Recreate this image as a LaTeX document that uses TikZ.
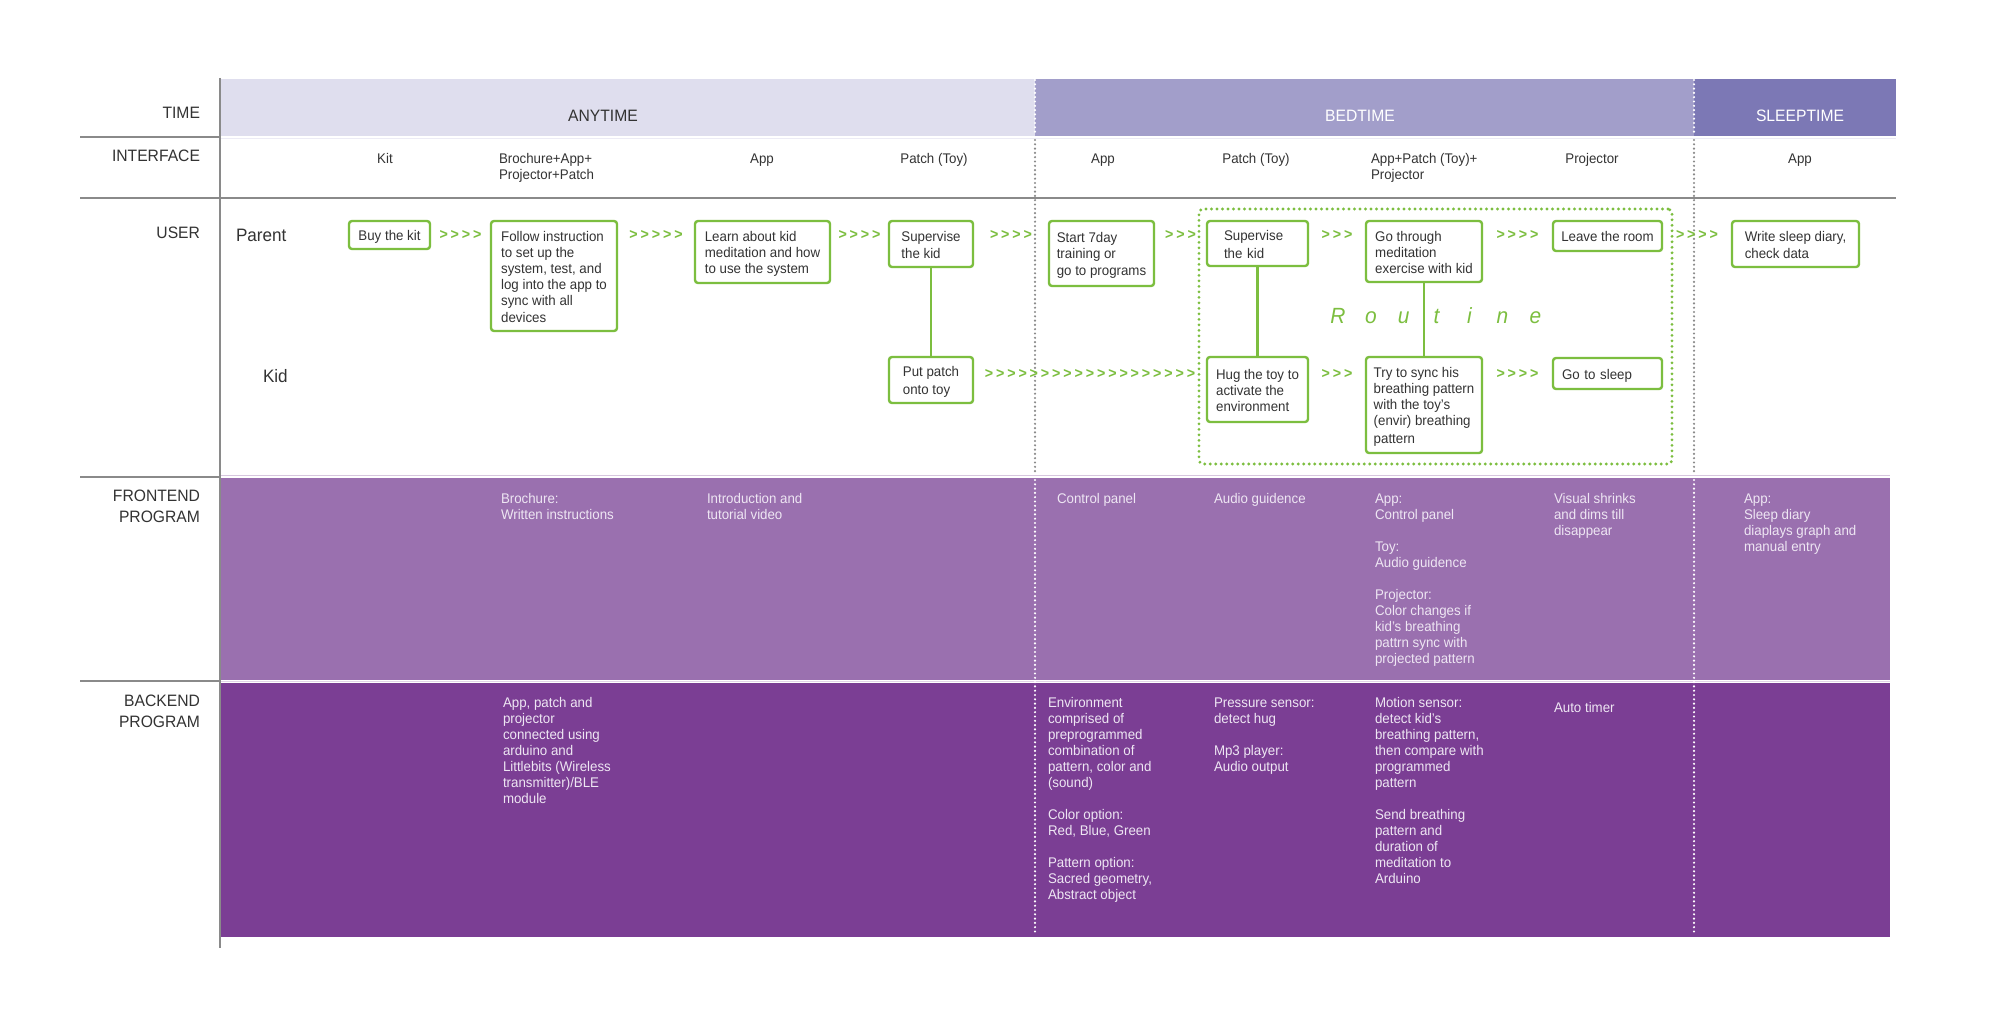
\documentclass[tikz,border=0pt]{standalone}
\usepackage{fontspec}
\setmainfont{Liberation Sans}[FakeStretch=0.95]
\usetikzlibrary{calc}
\definecolor{anyc}{HTML}{DFDEEE}
\definecolor{bedc}{HTML}{A29ECA}
\definecolor{sleepc}{HTML}{7C78B5}
\definecolor{frontc}{HTML}{9A70AF}
\definecolor{backc}{HTML}{7B3E94}
\definecolor{grn}{HTML}{7CBE3F}
\definecolor{lgray}{HTML}{8A8A8A}
\definecolor{lbl}{HTML}{333333}
\definecolor{ptxt}{HTML}{EEE6F3}
\newcommand\bstrut{\rule[-2pt]{0pt}{16pt}}
\newcommand\rl[1]{\makebox[32.9pt]{#1}}
\newcount\chvn
\newcommand\chv[1]{\chvn=#1\relax>\loop\ifnum\chvn>1 \kern2.9pt>\advance\chvn-1\repeat}
\begin{document}
\begin{tikzpicture}[x=1pt,y=-1pt,
  every node/.style={inner sep=0pt, outer sep=0pt},
  caplbl/.style={font=\fontsize{16.5}{21}\selectfont, text=lbl},
  rowlbl/.style={font=\fontsize{18}{21}\selectfont, text=lbl},
  iface/.style={font=\fontsize{14}{16}\selectfont, text=lbl},
  box/.style={draw=grn, line width=2.4pt, rounded corners=3pt, fill=white, align=left,
    anchor=north west, font=\fontsize{14}{16}\selectfont, text=lbl},
  chev/.style={font=\fontsize{15}{16}\selectfont\bfseries, text=grn},
  link/.style={draw=grn, line width=2.2pt},
  ptext/.style={font=\fontsize{14}{16}\selectfont, text=ptxt, align=left, anchor=north west},
  sepgray/.style={draw=lgray, line width=2.4pt, line cap=round, dash pattern=on 0pt off 4.3pt},
  sepwhite/.style={draw=white, line width=2.4pt, line cap=round, dash pattern=on 0pt off 4.3pt},
  gridline/.style={draw=lgray, line width=2pt}
]
\useasboundingbox[fill=white] (0,0) rectangle (2000,1011);

% bands
\fill[anyc] (220,79) rectangle (1035,136);
\fill[bedc] (1035,79) rectangle (1694,136);
\fill[sleepc] (1694,79) rectangle (1896,136);
\draw[anyc!60!white, line width=1.5pt] (220,138.5) -- (1896,138.5);
\fill[frontc] (221,478) rectangle (1890,680);
\draw[frontc!40!white, line width=1.5pt] (221,475.5) -- (1890,475.5);
\draw[frontc!30!white, line width=1.2pt] (221,681.5) -- (1890,681.5);
\fill[backc] (221,683) rectangle (1890,937);

% grid lines
\draw[gridline] (219.5,78) -- (219.5,948);
\draw[gridline] (80,137) -- (219.5,137);
\draw[gridline] (80,198) -- (1896,198);
\draw[gridline] (80,477) -- (219.5,477);
\draw[gridline] (80,681) -- (219.5,681);

% phase separators
\foreach \xx in {1035,1694} {
  \draw[sepgray] (\xx,140) -- (\xx,474);
  \draw[sepwhite] (\xx,80) -- (\xx,135);
  \draw[sepwhite] (\xx,480) -- (\xx,935);
}

% left labels
\node[caplbl, anchor=base east] (ltime) at (200,119) {TIME};
\node[caplbl, anchor=base east] (liface) at (200,162) {INTERFACE};
\node[caplbl, anchor=base east] (luser) at (200,239) {USER};
\node[caplbl, anchor=north east, align=right] (lfront) at (200,486.3) {\strut FRONTEND\\PROGRAM};
\node[caplbl, anchor=north east, align=right] (lback) at (200,691.3) {\strut BACKEND\\PROGRAM};
\node[rowlbl, anchor=base west] (lparent) at (236,242) {Parent};
\node[rowlbl, anchor=base west] (lkid) at (263,382) {Kid};

% header
\node[caplbl, anchor=base] (hany) at (603,122) {ANYTIME};
\node[caplbl, anchor=base, text=white] (hbed) at (1360,122) {BEDTIME};
\node[caplbl, anchor=base, text=white] (hsleep) at (1800,122) {SLEEPTIME};

% interface
\node[iface, anchor=base] (i1) at (385,164) {Kit};
\node[iface, anchor=north west, align=left] (i2) at (499,152.8) {\strut Brochure+App+\\Projector+Patch};
\node[iface, anchor=base] (i3) at (762,164) {App};
\node[iface, anchor=base] (i4) at (934,164) {Patch (Toy)};
\node[iface, anchor=base] (i5) at (1103,164) {App};
\node[iface, anchor=base] (i6) at (1256,164) {Patch (Toy)};
\node[iface, anchor=north west, align=left] (i7) at (1371,152.8) {\strut App+Patch (Toy)+\\Projector};
\node[iface, anchor=base] (i8) at (1592,164) {Projector};
\node[iface, anchor=base] (i9) at (1800,164) {App};

% routine frame
\node[draw=grn, line width=3.2pt, line cap=round, dash pattern=on 0pt off 5.5pt,
  rounded corners=4pt, anchor=north west, minimum width=473, minimum height=255] (routinebox) at (1199,209) {};
\node[anchor=base west, font=\fontsize{22}{24}\selectfont\itshape, text=grn] (routine) at (1321.5,323)
  {\rl{R}\rl{o}\rl{u}\rl{t}\rl{i}\rl{n}\rl{e}};

% parent boxes
\node[box, minimum width=81, minimum height=28] (buy) at (349,221) {\bstrut Buy the kit\bstrut};
\node[box, minimum width=126, minimum height=110] (follow) at (491,221)
  {\bstrut Follow instruction\\to set up the\\system, test, and\\log into the app to\\sync with all\\devices\bstrut};
\node[box, minimum width=135, minimum height=62] (learn) at (695,221)
  {\bstrut Learn about kid\\meditation and how\\to use the system\bstrut};
\node[box, minimum width=84, minimum height=46] (sup1) at (889,221) {\bstrut Supervise\\the kid\bstrut};
\node[box, minimum width=105, minimum height=65] (start) at (1049,221)
  {\bstrut Start 7day\\training or\\go to programs\bstrut};
\node[box, text width=67pt, inner xsep=17pt, minimum height=45] (sup2) at (1207,221) {\bstrut Supervise\\the kid\bstrut};
\node[box, minimum width=116, minimum height=61] (go) at (1366,221)
  {\bstrut Go through\\meditation\\exercise with kid\bstrut};
\node[box, minimum width=109, minimum height=30] (leave) at (1553,221) {\bstrut Leave the room\bstrut};
\node[box, minimum width=127, minimum height=46] (write) at (1732,221)
  {\bstrut Write sleep diary,\\check data\bstrut};

% kid boxes
\node[box, minimum width=84, minimum height=46] (put) at (889,357) {\bstrut Put patch\\onto toy\bstrut};
\node[box, minimum width=101, minimum height=65] (hug) at (1207,357)
  {\bstrut Hug the toy to\\activate the\\environment\bstrut};
\node[box, minimum width=116, minimum height=96] (try) at (1366,357)
  {\bstrut Try to sync his\\breathing pattern\\with the toy’s\\(envir) breathing\\pattern\bstrut};
\node[box, text width=91pt, inner xsep=9pt, minimum height=31] (sleep) at (1553,358) {\bstrut Go to sleep\bstrut};

% vertical links
\draw[link] (sup1.south) -- (put.north);
\draw[link] (sup2.south) -- (hug.north);
\draw[link] (go.south) -- (try.north);

% chevrons (parent row)
\node[chev] (c1) at ($(buy.north east)!0.5!(follow.north west)+(0,14)$) {\chv{4}};
\node[chev] (c2) at ($(follow.north east)!0.5!(learn.north west)+(0,14)$) {\chv{5}};
\node[chev] (c3) at ($(learn.north east)!0.5!(sup1.north west)+(0,14)$) {\chv{4}};
\node[chev] (c4) at ($(sup1.north east)!0.5!(start.north west)+(0,14)$) {\chv{4}};
\node[chev] (c5) at ($(start.north east)!0.5!(sup2.north west)+(0,14)$) {\chv{3}};
\node[chev] (c6) at ($(sup2.north east)!0.5!(go.north west)+(0,14)$) {\chv{3}};
\node[chev] (c7) at ($(go.north east)!0.5!(leave.north west)+(0,14)$) {\chv{4}};
\node[chev] (c8) at ($(leave.north east)!0.5!(write.north west)+(0,14)$) {\chv{4}};
% chevrons (kid row)
\node[chev] (k1) at ($(put.north east)!0.5!(hug.north west)+(0,17)$) {\chv{19}};
\node[chev] (k2) at ($(hug.north east)!0.5!(try.north west)+(0,17)$) {\chv{3}};
\node[chev] (k3) at ($(try.north east)!0.5!(sleep.north west)+(0,16)$) {\chv{4}};

% frontend texts
\node[ptext] (f1) at (501,491.8) {\strut Brochure:\\Written instructions};
\node[ptext] (f2) at (707,491.8) {\strut Introduction and\\tutorial video};
\node[ptext] (f3) at (1057,491.8) {\strut Control panel};
\node[ptext] (f4) at (1214,491.8) {\strut Audio guidence};
\node[ptext] (f5) at (1375,491.8) {\strut App:\\Control panel\\[16pt]Toy:\\Audio guidence\\[16pt]Projector:\\Color changes if\\kid’s breathing\\pattrn sync with\\projected pattern};
\node[ptext] (f6) at (1554,491.8) {\strut Visual shrinks\\and dims till\\disappear};
\node[ptext] (f7) at (1744,491.8) {\strut App:\\Sleep diary\\diaplays graph and\\manual entry};

% backend texts
\node[ptext] (b1) at (503,695.8) {\strut App, patch and\\projector\\connected using\\arduino and\\Littlebits (Wireless\\transmitter)/BLE\\module};
\node[ptext] (b2) at (1048,695.8) {\strut Environment\\comprised of\\preprogrammed\\combination of\\pattern, color and\\(sound)\\[16pt]Color option:\\Red, Blue, Green\\[16pt]Pattern option:\\Sacred geometry,\\Abstract object};
\node[ptext] (b3) at (1214,695.8) {\strut Pressure sensor:\\detect hug\\[16pt]Mp3 player:\\Audio output};
\node[ptext] (b4) at (1375,695.8) {\strut Motion sensor:\\detect kid’s\\breathing pattern,\\then compare with\\programmed\\pattern\\[16pt]Send breathing\\pattern and\\duration of\\meditation to\\Arduino};
\node[ptext] (b5) at (1554,700.8) {\strut Auto timer};
\end{tikzpicture}
\end{document}
